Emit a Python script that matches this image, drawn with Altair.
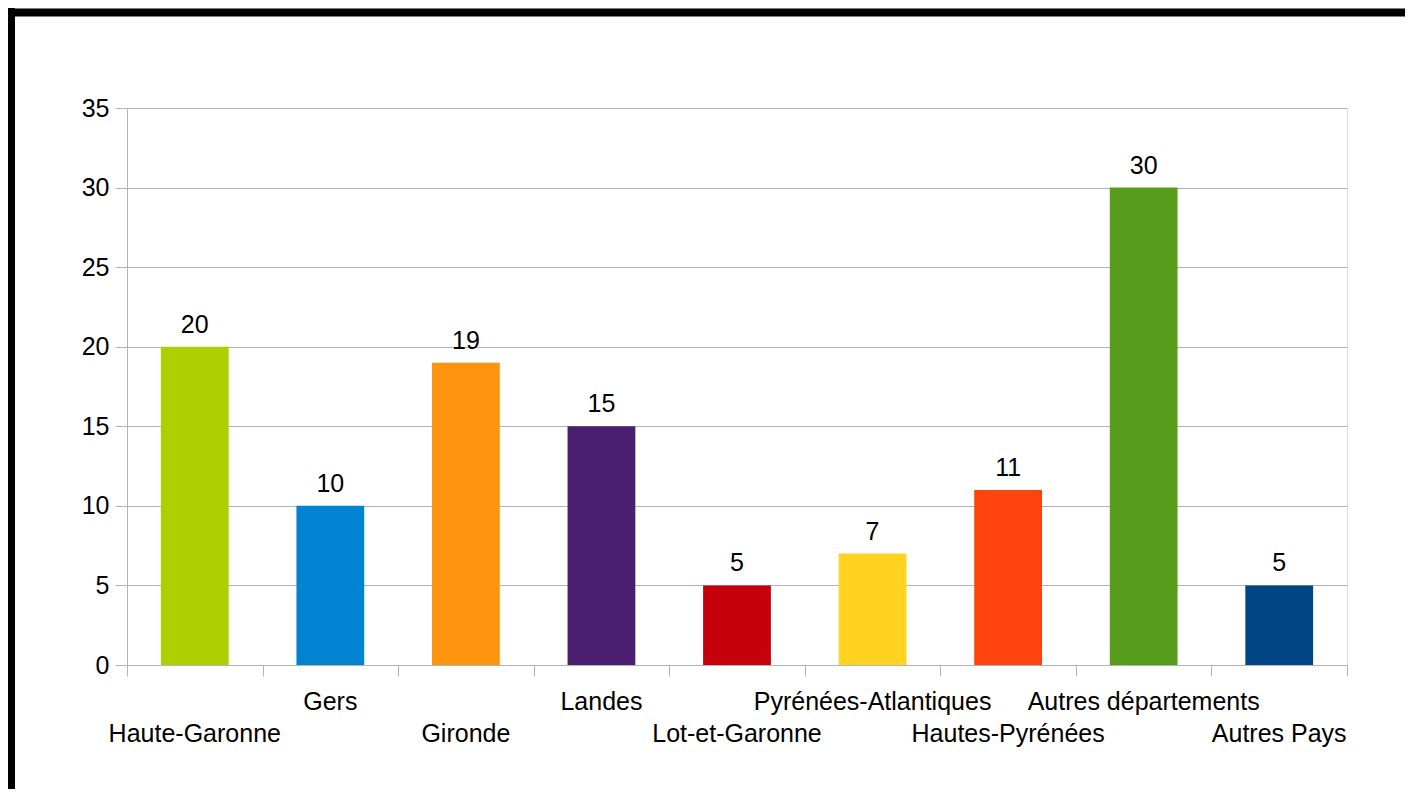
import altair as alt
import pandas as pd

categories = ["Haute-Garonne", "Gers", "Gironde", "Landes", "Lot-et-Garonne",
              "Pyrénées-Atlantiques", "Hautes-Pyrénées", "Autres départements", "Autres Pays"]
values = [20, 10, 19, 15, 5, 7, 11, 30, 5]
colors = ["#aecf00", "#0084d1", "#ff950e", "#4b1f6f", "#c5000b",
          "#ffd320", "#ff420e", "#579d1c", "#004586"]
y_ticks = [0, 5, 10, 15, 20, 25, 30, 35]

df = pd.DataFrame({"cat": categories, "val": values, "idx": list(range(len(categories)))})

FONT = "Liberation Sans"
FS = 25
GRAY = "#b3b3b3"
W, H = 1220, 557

xscale = alt.Scale(domain=categories, paddingInner=0, paddingOuter=0)
yscale = alt.Scale(domain=[0, 35], nice=False)

base = alt.Chart(df)

bars = base.mark_bar(width=alt.RelativeBandSize(0.5)).encode(
    x=alt.X("cat:N", scale=xscale, sort=categories, title=None,
            axis=alt.Axis(labels=False, tickBand="extent", ticks=True, tickSize=11,
                          tickColor=GRAY, domainColor=GRAY, grid=False)),
    y=alt.Y("val:Q", scale=yscale, title=None,
            axis=alt.Axis(values=y_ticks, tickSize=12, tickColor=GRAY, domainColor=GRAY,
                          gridColor=GRAY, labelFont=FONT, labelFontSize=FS,
                          labelColor="black", labelPadding=6)),
    color=alt.Color("cat:N", scale=alt.Scale(domain=categories, range=colors), legend=None),
)

value_labels = base.mark_text(font=FONT, fontSize=FS, baseline="alphabetic", dy=-14, color="black").encode(
    x=alt.X("cat:N", scale=xscale, sort=categories),
    y=alt.Y("val:Q", scale=yscale),
    text=alt.Text("val:Q"),
)

upper = base.transform_filter("datum.idx % 2 == 1").mark_text(
    font=FONT, fontSize=FS, baseline="alphabetic", color="black").encode(
    x=alt.X("cat:N", scale=xscale, sort=categories),
    y=alt.value(H + 45),
    text="cat:N",
)
lower = base.transform_filter("datum.idx % 2 == 0").mark_text(
    font=FONT, fontSize=FS, baseline="alphabetic", color="black").encode(
    x=alt.X("cat:N", scale=xscale, sort=categories),
    y=alt.value(H + 77),
    text="cat:N",
)

frame_left = alt.Chart(pd.DataFrame({"a": [0]})).mark_rule(color="black", strokeWidth=8).encode(
    x=alt.value(-116), y=alt.value(-120), y2=alt.value(H + 300))
frame_top = alt.Chart(pd.DataFrame({"a": [0]})).mark_rule(color="black", strokeWidth=8).encode(
    x=alt.value(-120), x2=alt.value(W + 300), y=alt.value(-95.5))

chart = alt.layer(bars, value_labels, upper, lower, frame_left, frame_top).properties(
    width=W, height=H,
    autosize=alt.AutoSizeParams(type="none"),
    padding={"left": 119, "top": 100, "right": 58, "bottom": 124},
).configure_view(stroke=GRAY, strokeWidth=1).configure(background="white")

chart.save("out.html", embed_options={"renderer": "svg", "actions": False})
